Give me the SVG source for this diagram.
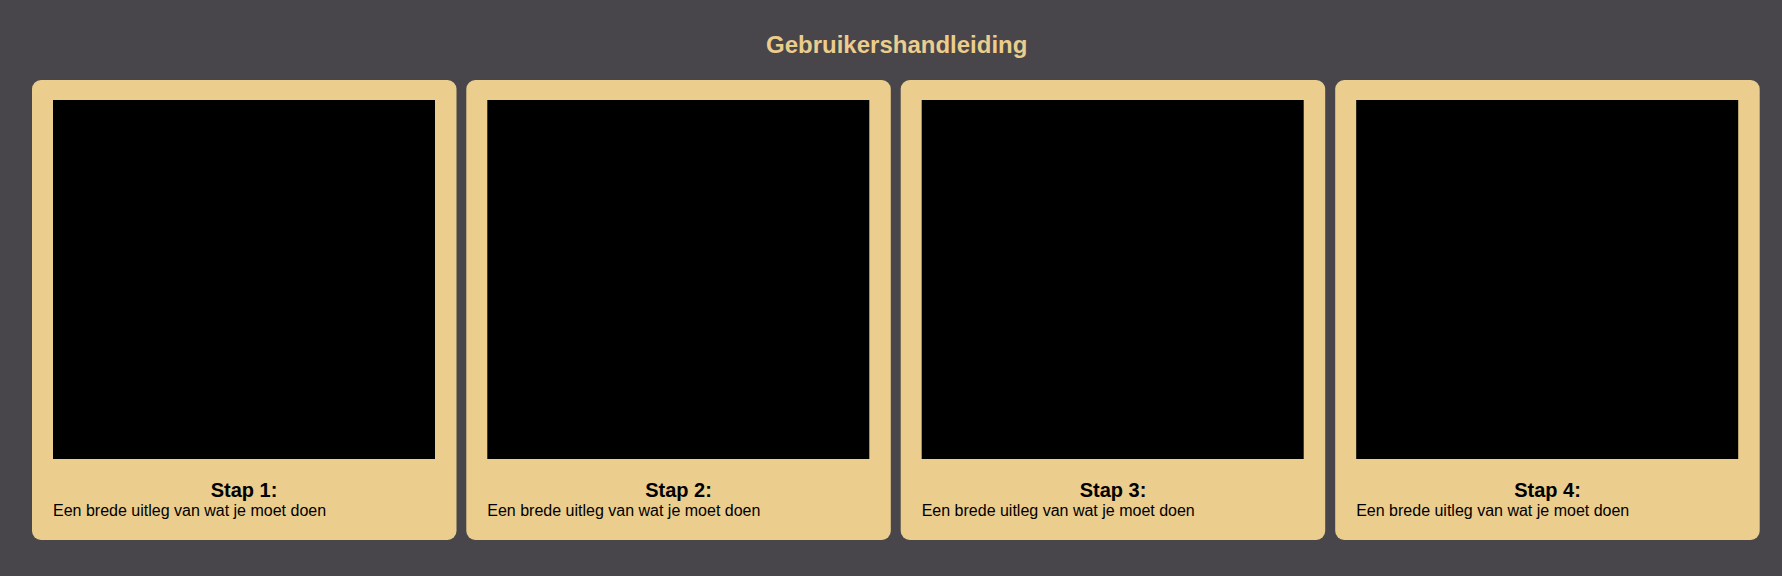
<svg xmlns="http://www.w3.org/2000/svg" width="1782" height="576" viewBox="0 0 1782 576">
<style>
.bg{fill:#48464a}
.card{fill:#ebcd8d}
.img{fill:#000000}
.title{font-family:"Liberation Sans",Arial,sans-serif;font-weight:bold;font-size:24px;fill:#ebcd8d}
.step{font-family:"Liberation Sans",Arial,sans-serif;font-weight:bold;font-size:20px;fill:#000;text-anchor:middle}
.desc{font-family:"Liberation Sans",Arial,sans-serif;font-size:16px;fill:#000}
</style>
<rect class="bg" x="0" y="0" width="1782" height="576"/>
<text class="title" x="766" y="53">Gebruikershandleiding</text>
<g id="stap1">
<rect class="card" x="32" y="80" width="424.5" height="460" rx="9"/>
<rect class="img" x="53" y="100" width="382" height="359"/>
<text class="step" x="244" y="497">Stap 1:</text>
<text class="desc" x="53" y="516">Een brede uitleg van wat je moet doen</text>
</g>
<g id="stap2">
<rect class="card" x="466.3" y="80" width="424.5" height="460" rx="9"/>
<rect class="img" x="487.3" y="100" width="382" height="359"/>
<text class="step" x="678.5" y="497">Stap 2:</text>
<text class="desc" x="487.3" y="516">Een brede uitleg van wat je moet doen</text>
</g>
<g id="stap3">
<rect class="card" x="900.7" y="80" width="424.5" height="460" rx="9"/>
<rect class="img" x="921.7" y="100" width="382" height="359"/>
<text class="step" x="1113" y="497">Stap 3:</text>
<text class="desc" x="921.7" y="516">Een brede uitleg van wat je moet doen</text>
</g>
<g id="stap4">
<rect class="card" x="1335.2" y="80" width="424.5" height="460" rx="9"/>
<rect class="img" x="1356.2" y="100" width="382" height="359"/>
<text class="step" x="1547.5" y="497">Stap 4:</text>
<text class="desc" x="1356.2" y="516">Een brede uitleg van wat je moet doen</text>
</g>
<g id="connectors"></g>
</svg>
